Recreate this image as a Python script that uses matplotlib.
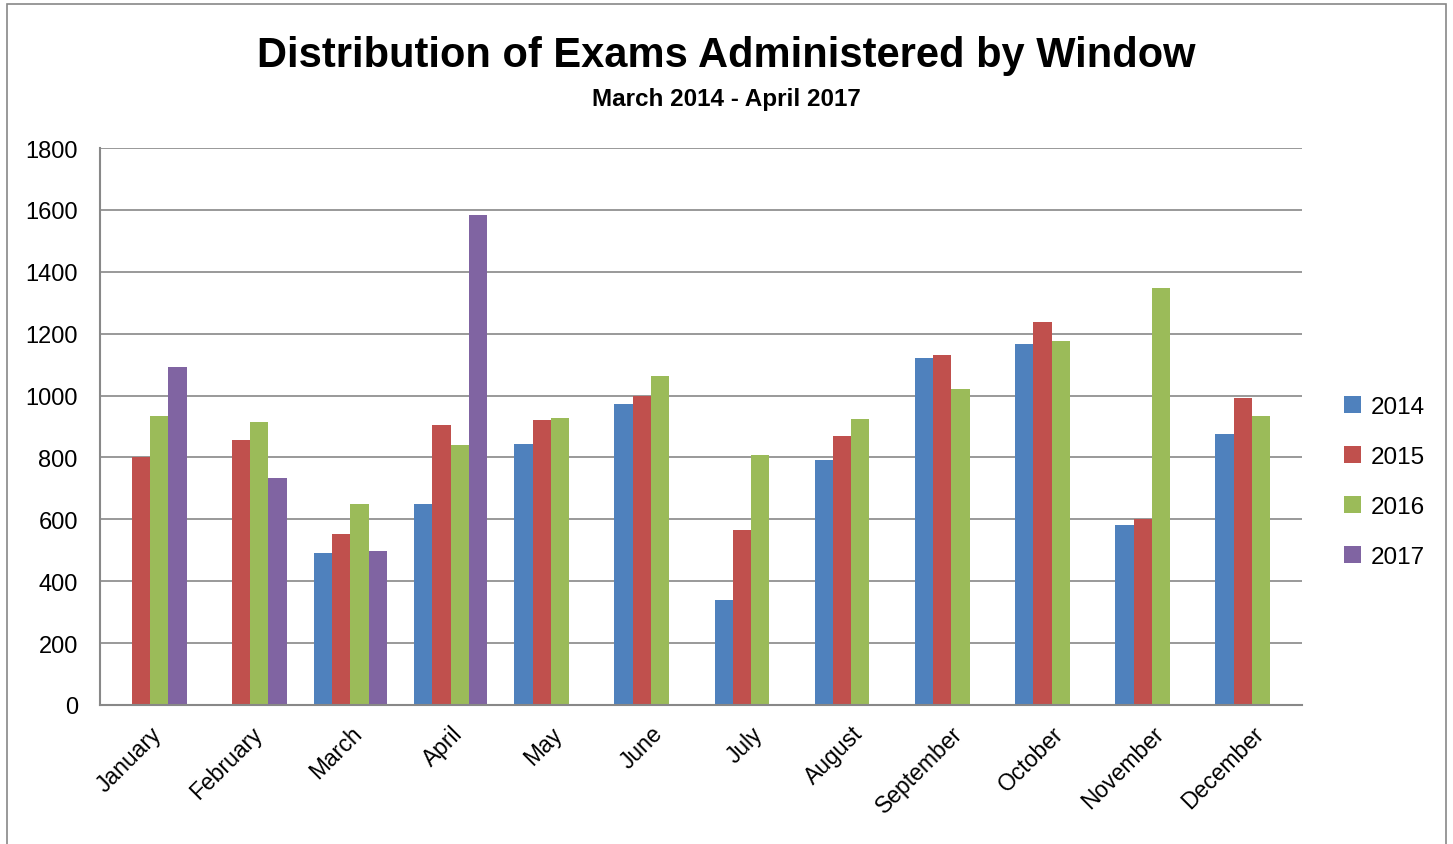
import numpy as np
import matplotlib
matplotlib.use('Agg')
import matplotlib.pyplot as plt
from matplotlib.patches import Rectangle

months = ['January', 'February', 'March', 'April', 'May', 'June', 'July',
          'August', 'September', 'October', 'November', 'December']
years = ['2014', '2015', '2016', '2017']

# exams per window (nan = no data)
y2014 = [np.nan, np.nan, 491, 650, 844, 973, 339, 792, 1121, 1167, 582, 876]
y2015 = [801, 856, 553, 905, 921, 999, 566, 869, 1131, 1238, 601, 992]
y2016 = [934, 915, 650, 840, 928, 1063, 808, 924, 1021, 1176, 1348, 934]
y2017 = [1092, 734, 498, 1584, np.nan, np.nan, np.nan, np.nan, np.nan, np.nan, np.nan, np.nan]

colors = ['#4F81BD', '#C0504D', '#9BBB59', '#8064A2']

plt.rcParams['font.family'] = ['Liberation Sans', 'DejaVu Sans']

fig = plt.figure(figsize=(14.53, 8.45), dpi=100)
ax = fig.add_axes([100 / 1453, 1 - 706 / 845, 1202 / 1453, 557 / 845])

# outer chart border
fig.patches.append(Rectangle((7 / 1453, -0.01), 1439 / 1453, 1 - 5 / 845 + 0.01,
                             transform=fig.transFigure, fill=False,
                             edgecolor='#888888', linewidth=1.2))

x = np.arange(len(months))
w = 1 / 5.5
for i, (vals, yr) in enumerate(zip([y2014, y2015, y2016, y2017], years)):
    ax.bar(x - 1.5 * w + i * w, vals, width=w, color=colors[i], label=yr)

ax.set_xlim(-0.5, len(months) - 0.5)
ax.set_ylim(0, 1800)
ax.set_yticks(range(0, 1801, 200))
ax.set_xticks(x)
ax.set_xticklabels(months, rotation=45, ha='right', rotation_mode='anchor', fontsize=16.5)
ax.tick_params(axis='y', labelsize=17, length=0, pad=16)
ax.tick_params(axis='x', length=0, pad=12)
ax.yaxis.grid(True, color='#888888', linewidth=1.2)
ax.set_axisbelow(True)
for s in ['top', 'right']:
    ax.spines[s].set_visible(False)
for s in ['left', 'bottom']:
    ax.spines[s].set_color('#888888')
    ax.spines[s].set_linewidth(1.5)

ax.legend(loc='center left', bbox_to_anchor=(1.017, 0.40), frameon=False,
          fontsize=17.5, handlelength=0.7, handleheight=0.7, labelspacing=1.15,
          handletextpad=0.4)

fig.text(0.5, 1 - 56 / 845, 'Distribution of Exams Administered by Window',
         ha='center', va='center', fontsize=30, fontweight='bold')
fig.text(0.5, 1 - 100 / 845, 'March 2014 - April 2017',
         ha='center', va='center', fontsize=17.5, fontweight='bold')

fig.savefig('out.png', dpi=100)
